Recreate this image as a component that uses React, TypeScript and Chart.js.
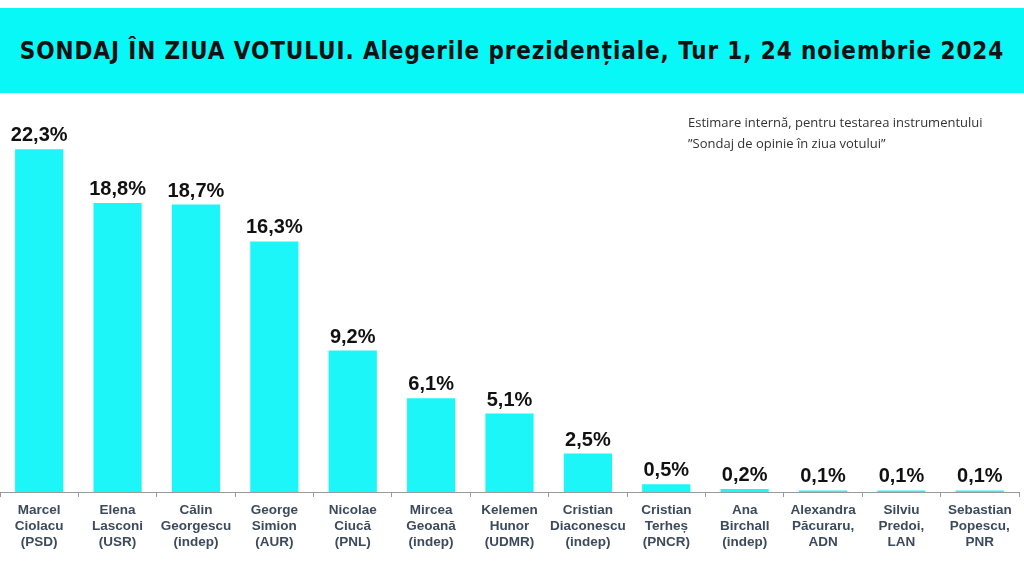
import React, { useEffect, useRef } from "react";
import { Chart, registerables } from "chart.js";

Chart.register(...registerables);

const TITLE = "SONDAJ ÎN ZIUA VOTULUI. Alegerile prezidențiale, Tur 1, 24 noiembrie 2024";
const NOTE_LINES = [
  "Estimare internă, pentru testarea instrumentului",
  "”Sondaj de opinie în ziua votului”",
];

const candidates: string[][] = [
  ["Marcel", "Ciolacu", "(PSD)"],
  ["Elena", "Lasconi", "(USR)"],
  ["Călin", "Georgescu", "(indep)"],
  ["George", "Simion", "(AUR)"],
  ["Nicolae", "Ciucă", "(PNL)"],
  ["Mircea", "Geoană", "(indep)"],
  ["Kelemen", "Hunor", "(UDMR)"],
  ["Cristian", "Diaconescu", "(indep)"],
  ["Cristian", "Terheș", "(PNCR)"],
  ["Ana", "Birchall", "(indep)"],
  ["Alexandra", "Păcuraru,", "ADN"],
  ["Silviu", "Predoi,", "LAN"],
  ["Sebastian", "Popescu,", "PNR"],
];

const votes: number[] = [22.3, 18.8, 18.7, 16.3, 9.2, 6.1, 5.1, 2.5, 0.5, 0.2, 0.1, 0.1, 0.1];

const BAR_COLOR = "#1CF6F8";
const BANNER_COLOR = "#08F8F8";

const valueLabels = {
  id: "valueLabels",
  afterDatasetsDraw(chart: any) {
    const ctx = chart.ctx;
    const meta = chart.getDatasetMeta(0);
    ctx.save();
    ctx.fillStyle = "#111";
    ctx.font = "bold 20px 'Liberation Sans', Arial, sans-serif";
    ctx.textAlign = "center";
    ctx.textBaseline = "alphabetic";
    meta.data.forEach((el: any, i: number) => {
      const v = votes[i];
      const txt = v.toFixed(1).replace(".", ",") + "%";
      ctx.fillText(txt, el.x, el.y - 8);
    });
    ctx.restore();
  },
};

export default function App() {
  const ref = useRef<HTMLCanvasElement>(null);
  useEffect(() => {
    if (!ref.current) return;
    const chart = new Chart(ref.current, {
      type: "bar",
      data: {
        labels: candidates,
        datasets: [
          {
            data: votes,
            backgroundColor: BAR_COLOR,
            borderWidth: 0,
            categoryPercentage: 1,
            barPercentage: 0.615,
          },
        ],
      },
      options: {
        animation: false,
        responsive: false,
        layout: { padding: { top: 8, left: 0, right: 5, bottom: 0 } },
        plugins: {
          legend: { display: false },
          tooltip: { enabled: false },
          title: { display: false },
        },
        scales: {
          x: {
            afterFit: (scale: any) => {
              scale.height = 84;
            },
            grid: {
              display: true,
              drawOnChartArea: false,
              drawTicks: true,
              tickLength: 5,
              offset: true,
              color: "#9a9a9a",
            },
            border: { display: true, color: "#9a9a9a", width: 1 },
            ticks: {
              color: "#3d4a5c",
              padding: 5,
              maxRotation: 0,
              autoSkip: false,
              font: {
                family: "'Liberation Sans', Arial, sans-serif",
                size: 13.5,
                weight: "bold",
                lineHeight: 16 / 13.5,
              },
            },
          },
          y: {
            display: false,
            min: 0,
            max: 25.5,
          },
        },
      },
      plugins: [valueLabels],
    });
    return () => chart.destroy();
  }, []);

  return (
    <div style={{ position: "fixed", left: 0, top: 0, width: 1024, height: 576, background: "#fff", overflow: "hidden" }}>
      <div
        style={{
          position: "absolute",
          left: 0,
          top: 8,
          width: 1024,
          height: 85,
          background: BANNER_COLOR,
          display: "flex",
          alignItems: "center",
          justifyContent: "center",
        }}
      >
        <div
          style={{
            fontFamily: "'DejaVu Sans Condensed', 'DejaVu Sans', sans-serif",
            fontStretch: "condensed",
            fontWeight: "bold",
            fontSize: 24,
            letterSpacing: 0.9,
            color: "#111",
            whiteSpace: "nowrap",
          }}
        >
          {TITLE}
        </div>
      </div>
      <canvas ref={ref} width={1024} height={484} style={{ position: "absolute", left: 0, top: 92, width: 1024, height: 484 }} />
      <div
        style={{
          position: "absolute",
          left: 688,
          top: 112,
          fontFamily: "'Open Sans', 'Liberation Sans', sans-serif",
          fontSize: 13,
          lineHeight: "21px",
          color: "#333",
          whiteSpace: "nowrap",
        }}
      >
        {NOTE_LINES.map((l, i) => (
          <div key={i}>{l}</div>
        ))}
      </div>
    </div>
  );
}
